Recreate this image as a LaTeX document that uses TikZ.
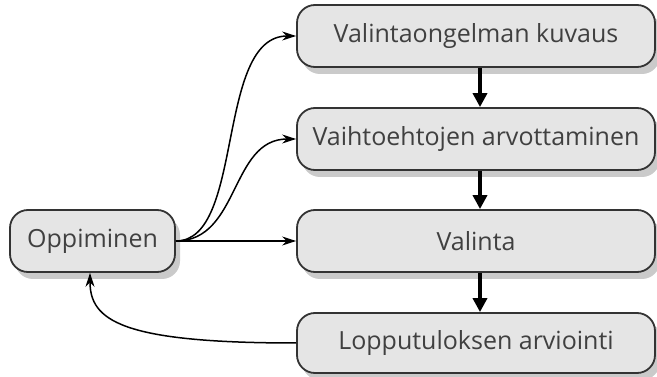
\documentclass[tikz,border=0pt]{standalone}
\usepackage{fontspec}
\setmainfont{Open Sans}
\usetikzlibrary{arrows.meta,shadows}
\begin{document}
\begin{tikzpicture}[x=1pt,y=-1pt,
  box/.style={draw=black!80,line width=1.8pt,fill=black!10,rounded corners=18pt,
    text=black!75,font=\fontsize{25}{29}\selectfont,inner sep=0pt,
    drop shadow={shadow xshift=5pt,shadow yshift=-7pt,opacity=0.35,fill=black!60}},
  thin/.style={line width=1.5pt,-{Stealth[length=14pt,width=9pt]}},
  thick/.style={line width=4.5pt,-{Triangle[length=14pt,width=14pt]}}]
\useasboundingbox (0,0) rectangle (657,377);
\node[box,minimum width=358pt,minimum height=62pt] (a) at (476,36) {Valintaongelman kuvaus};
\node[box,minimum width=358pt,minimum height=62pt] (b) at (476,139) {Vaihtoehtojen arvottaminen};
\node[box,minimum width=358pt,minimum height=62pt] (c) at (476,241) {Valinta};
\node[box,minimum width=358pt,minimum height=60pt] (d) at (476,343) {Lopputuloksen arviointi};
\node[box,minimum width=165pt,minimum height=62pt] (o) at (92.5,241) {Oppiminen};
\draw[thick] (a.south -| 480,0) -- (b.north -| 480,0);
\draw[thick] (b.south -| 480,0) -- (c.north -| 480,0);
\draw[thick] (c.south -| 480,0) -- (d.north -| 480,0);
\draw[thin] (o.east) .. controls (245,241) and (215,36) .. (a.west);
\draw[thin] (o.east) .. controls (240,241) and (230,139) .. (b.west);
\draw[thin] (o.east) -- (c.west);
\draw[thin] (d.west) .. controls (120,343) and (90,320) .. (o.south -| 90,0);
\end{tikzpicture}
\end{document}
